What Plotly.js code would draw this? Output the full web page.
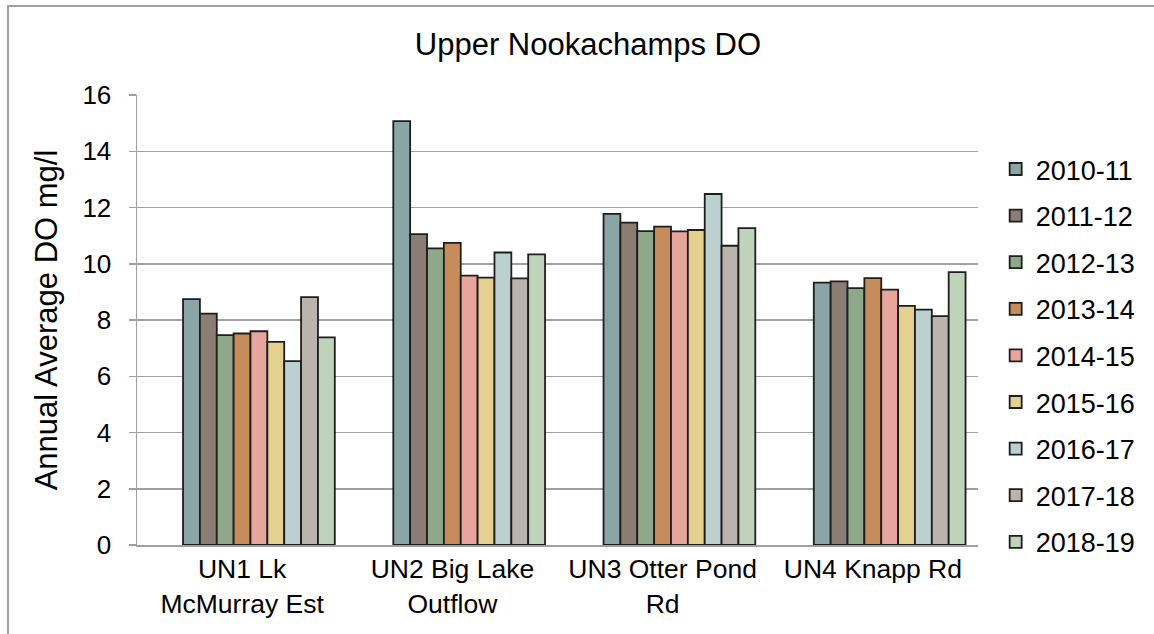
<!DOCTYPE html>
<html>
<head>
<meta charset="utf-8">
<script src="https://cdn.plot.ly/plotly-3.0.1.min.js"></script>
<style>
  html, body { margin: 0; padding: 0; background: #fff; overflow: hidden; }
  #chart { position: absolute; left: 0; top: 0; width: 1154px; height: 634px; }
  #frame { position: absolute; left: 7px; top: 5px; width: 1170px; height: 660px;
           border: 2px solid #a0a0a0; pointer-events: none; }
</style>
</head>
<body>
<div id="chart"></div>
<div id="frame"></div>
<script>
// ---- data ----
const sites = ["UN1 Lk<br>McMurray Est", "UN2 Big Lake<br>Outflow", "UN3 Otter Pond<br>Rd", "UN4 Knapp Rd"];
const years = ["2010-11", "2011-12", "2012-13", "2013-14", "2014-15", "2015-16", "2016-17", "2017-18", "2018-19"];

const do_2010_11 = [8.74, 15.07, 11.77, 9.33];
const do_2011_12 = [8.23, 11.05, 11.46, 9.37];
const do_2012_13 = [7.46, 10.55, 11.16, 9.13];
const do_2013_14 = [7.52, 10.74, 11.32, 9.49];
const do_2014_15 = [7.60, 9.58, 11.15, 9.08];
const do_2015_16 = [7.22, 9.51, 11.20, 8.50];
const do_2016_17 = [6.54, 10.40, 12.48, 8.37];
const do_2017_18 = [8.81, 9.48, 10.64, 8.14];
const do_2018_19 = [7.38, 10.33, 11.27, 9.70];

const seriesValues = [do_2010_11, do_2011_12, do_2012_13, do_2013_14, do_2014_15,
                      do_2015_16, do_2016_17, do_2017_18, do_2018_19];

const colors = ["#8ba5a6", "#8c7d74", "#8fa889", "#c78c5c", "#e8a59e",
                "#e4d18f", "#bdd0d0", "#bbb3ae", "#bfd3ba"];

// ---- styling / layout ----
const barW = 0.0802;
const firstOffset = -0.281;

const traces = seriesValues.map((vals, i) => ({
  type: "bar",
  name: years[i],
  x: sites,
  y: vals,
  width: barW,
  offset: firstOffset + i * barW,
  legendgroup: "g" + i,
  marker: { color: colors[i], line: { color: "#1e1e1e", width: 1.8 } },
  hovertemplate: "%{x}<br>" + years[i] + ": %{y}<extra></extra>"
}));

const font = "Arial, 'Liberation Sans', sans-serif";

const layout = {
  width: 1154,
  height: 634,
  paper_bgcolor: "#ffffff",
  plot_bgcolor: "#ffffff",
  margin: { l: 137, r: 176, t: 95, b: 89 },
  font: { family: font, color: "#000000" },
  title: {
    text: "Upper Nookachamps DO",
    font: { family: font, size: 31, color: "#000000" },
    x: 0.5095, xanchor: "center", xref: "container",
    y: 0.93, yanchor: "middle", yref: "container"
  },
  barmode: "group",
  xaxis: {
    type: "category",
    range: [-0.5, 3.5],
    showgrid: false,
    showline: true, linecolor: "#a0a0a0", linewidth: 1.5,
    ticks: "",
    tickfont: { family: font, size: 26.5, color: "#000000" },
    fixedrange: true
  },
  yaxis: {
    range: [0, 16],
    dtick: 2,
    showgrid: true, gridcolor: "#a0a0a0", gridwidth: 1.5,
    showline: true, linecolor: "#a0a0a0", linewidth: 1.5,
    ticks: "outside", ticklen: 7, tickcolor: "#a0a0a0", tickwidth: 1.5,
    ticklabelstandoff: 12,
    zeroline: false,
    tickfont: { family: font, size: 26, color: "#000000" },
    title: { text: "Annual Average DO mg/l", font: { family: font, size: 31, color: "#000000" }, standoff: 15 },
    fixedrange: true
  },
  showlegend: true,
  legend: {
    x: 1.021, xanchor: "left",
    y: 0.889, yanchor: "top",
    font: { family: font, size: 27, color: "#000000" },
    traceorder: "grouped",
    tracegroupgap: 8.5,
    bgcolor: "rgba(0,0,0,0)"
  }
};

Plotly.newPlot("chart", traces, layout, { displayModeBar: false, staticPlot: true });
</script>
</body>
</html>
